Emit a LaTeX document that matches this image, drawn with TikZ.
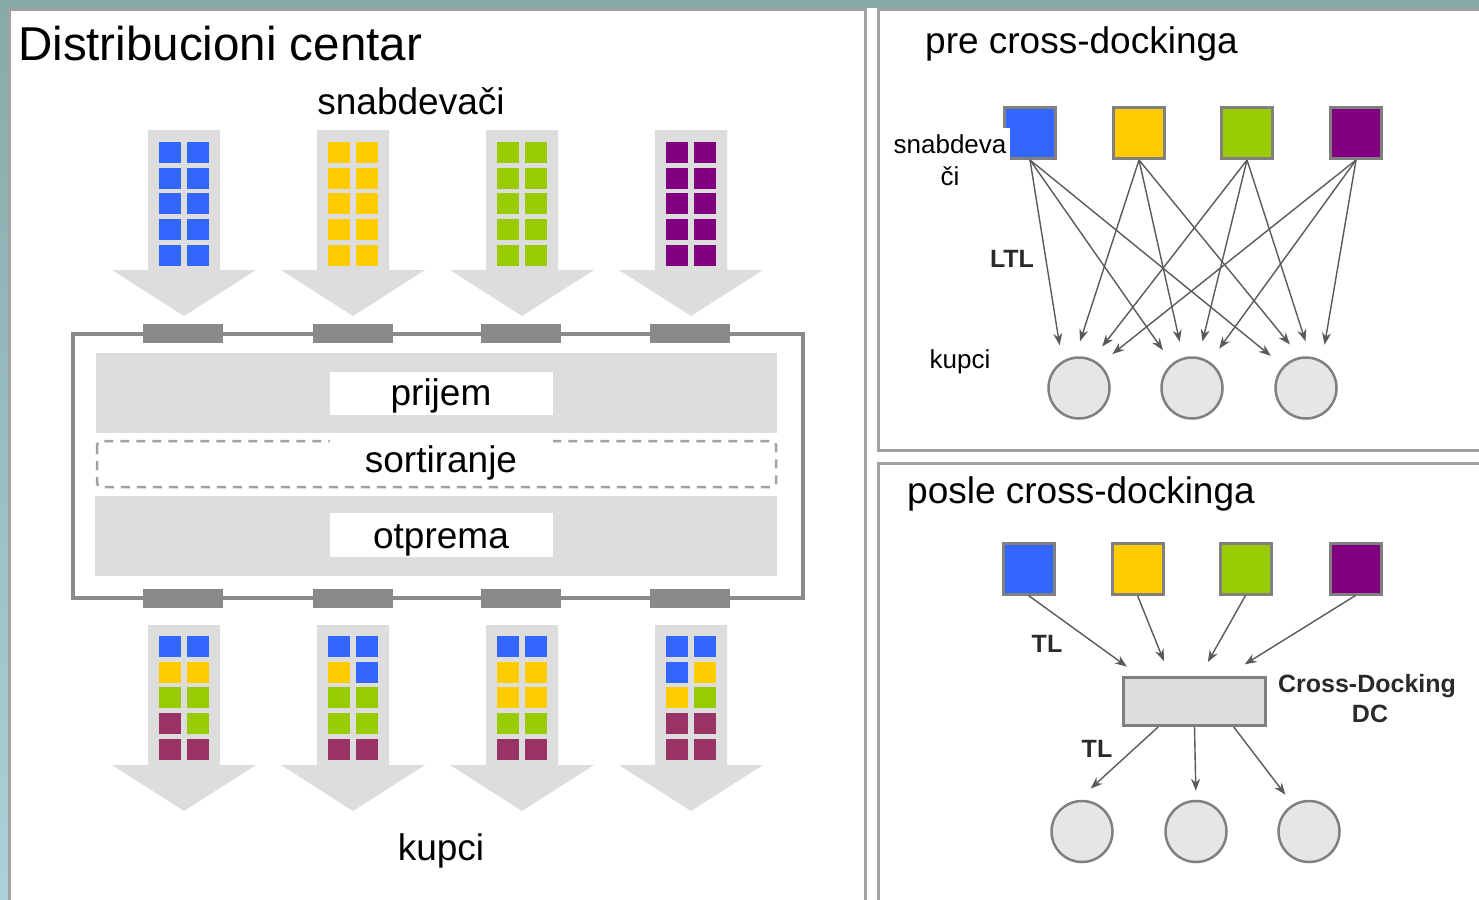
\documentclass[tikz,border=0pt]{standalone}
\usepackage{fontspec}
\setmainfont{Liberation Sans}
\usetikzlibrary{arrows.meta, calc, positioning}

\definecolor{frame}{HTML}{88A9A9}
\definecolor{framelow}{HTML}{A9D3D7}
\definecolor{panelline}{HTML}{A0A0A0}
\definecolor{flowgray}{HTML}{DDDDDD}
\definecolor{dockgray}{HTML}{8A8A8A}
\definecolor{cblue}{HTML}{3366FF}
\definecolor{cyellow}{HTML}{FFCC00}
\definecolor{cgreen}{HTML}{99CC00}
\definecolor{cpurple}{HTML}{800080}
\definecolor{cwine}{HTML}{993366}
\definecolor{nodefill}{HTML}{E6E6E6}
\definecolor{nodeline}{HTML}{808080}
\definecolor{arrowgray}{HTML}{5A5A5A}
\definecolor{tagtext}{HTML}{2A2A2A}

% wide gray flow arrow: centre x, top y, base y of the head
\newcommand{\bigarrow}[3]{%
  \fill[flowgray] (#1-36,#2) -- (#1+36,#2) -- (#1+36,#3) -- (#1+72,#3)
    -- (#1,#3+46) -- (#1-72,#3) -- (#1-36,#3) -- cycle}
% two columns of pallets: centre x, top y, colour pairs
\newcommand{\pallets}[3]{%
  \foreach \lc/\rc [count=\nrow from 0] in {#3} {
    \fill[\lc] (#1-25,#2+\nrow*25.7) rectangle ++(22,21);
    \fill[\rc] (#1+3,#2+\nrow*25.7) rectangle ++(22,21);
  }}

\begin{document}
\begin{tikzpicture}[x=1pt, y=-1pt,
    >={Stealth[length=12pt,width=9pt]},
    supplier/.style={draw=nodeline, line width=3pt, minimum size=51pt, inner sep=0pt},
    customer/.style={circle, draw=nodeline, line width=2.5pt, fill=nodefill, minimum size=61pt, inner sep=0pt},
    flow/.style={->, draw=arrowgray, line width=1.4pt, shorten >=#1},
    flow/.default=16pt,
    txt/.style={inner sep=0pt, anchor=base, font=\fontsize{37}{44}\selectfont},
    small/.style={inner sep=0pt, anchor=base, font=\fontsize{26}{31}\selectfont},
    tag/.style={inner sep=0pt, anchor=base, text=tagtext, font=\fontsize{25}{30}\selectfont\bfseries}]
  \useasboundingbox (0,0) rectangle (1479,899);

  % frame and panels
  \fill[frame] (0,0) rectangle (1479,899);
  \shade[top color=frame, bottom color=framelow] (0,0) rectangle (8,899);
  \fill[white] (8,8) rectangle (1479,899);
  \draw[panelline, line width=3pt] (9.5,9.5) rectangle (865,910);
  \draw[panelline, line width=3pt] (878,9.5) rectangle (1490,450);
  \draw[panelline, line width=3pt] (878,463.5) rectangle (1490,910);

  % distribution centre
  \node[txt, anchor=base west, font=\fontsize{47.5}{56}\selectfont] (dctitle) at (18,60) {Distribucioni centar};
  \node[txt] (dcin) at (411,114) {snabdevači};
  \bigarrow{184}{130}{270};
  \bigarrow{353}{130}{270};
  \bigarrow{522}{130}{270};
  \bigarrow{691}{130}{270};
  \pallets{184}{142}{cblue/cblue,cblue/cblue,cblue/cblue,cblue/cblue,cblue/cblue};
  \pallets{353}{142}{cyellow/cyellow,cyellow/cyellow,cyellow/cyellow,cyellow/cyellow,cyellow/cyellow};
  \pallets{522}{142}{cgreen/cgreen,cgreen/cgreen,cgreen/cgreen,cgreen/cgreen,cgreen/cgreen};
  \pallets{691}{142}{cpurple/cpurple,cpurple/cpurple,cpurple/cpurple,cpurple/cpurple,cpurple/cpurple};

  \draw[dockgray, line width=4pt] (73,334) rectangle (803,598);
  \foreach \dx in {143,313,481,650} {
    \fill[dockgray] (\dx,324) rectangle ++(80,19);
    \fill[dockgray] (\dx,589) rectangle ++(80,19);
  }
  \fill[flowgray] (96,353) rectangle (777,433);
  \fill[flowgray] (95,496) rectangle (777,576);
  \draw[dockgray!80, line width=2.5pt, dash pattern=on 9pt off 7pt, rounded corners=4pt] (97,441) rectangle (776,487);
  \fill[white] (330,372) rectangle (553,415);
  \fill[white] (330,436) rectangle (553,483);
  \fill[white] (330,513) rectangle (553,557);
  \node[txt] (receive) at (441,405) {prijem};
  \node[txt] (sort) at (441,472) {sortiranje};
  \node[txt] (ship) at (441,548) {otprema};

  \bigarrow{184}{625}{765};
  \bigarrow{353}{625}{765};
  \bigarrow{522}{625}{765};
  \bigarrow{691}{625}{765};
  \pallets{184}{636}{cblue/cblue,cyellow/cyellow,cgreen/cgreen,cwine/cgreen,cwine/cwine};
  \pallets{353}{636}{cblue/cblue,cyellow/cblue,cgreen/cgreen,cgreen/cgreen,cwine/cwine};
  \pallets{522}{636}{cblue/cblue,cyellow/cyellow,cyellow/cyellow,cgreen/cgreen,cwine/cwine};
  \pallets{691}{636}{cblue/cblue,cblue/cyellow,cyellow/cgreen,cwine/cwine,cwine/cwine};
  \node[txt] (dcout) at (441,860) {kupci};

  % before cross-docking
  \node[txt, anchor=base west] (pretitle) at (925,53) {pre cross-dockinga};
  \node[supplier, fill=cblue] (b1) at (1030,133) {};
  \node[supplier, fill=cyellow] (y1) at (1139,133) {};
  \node[supplier, fill=cgreen] (g1) at (1247,133) {};
  \node[supplier, fill=cpurple] (p1) at (1356,133) {};
  \node[customer] (k1) at (1079,388) {};
  \node[customer] (k2) at (1192,388) {};
  \node[customer] (k3) at (1306,388) {};
  \fill[white] (886,128) rectangle (1010,186);
  \node[small] (presup) at (950,153) {snabdeva};
  \node[small] (presup2) at (950,185) {či};
  \node[tag] (ltl) at (1012,267) {LTL};
  \node[small] (precust) at (960,368) {kupci};
  \path
    (b1.south) edge[flow] (k1.122) edge[flow] (k2.129) edge[flow] (k3.136)
    (y1.south) edge[flow] (k1.97)  edge[flow] (k2.106) edge[flow] (k3.101)
    (g1.south) edge[flow] (k1.65)  edge[flow] (k2.78)  edge[flow] (k3.82)
    (p1.south) edge[flow] (k1.49)  edge[flow] (k2.56)  edge[flow] (k3.60);

  % after cross-docking
  \node[txt, anchor=base west] (posttitle) at (907,503) {posle cross-dockinga};
  \node[supplier, fill=cblue] (b2) at (1028.5,568.5) {};
  \node[supplier, fill=cyellow] (y2) at (1137.5,568.5) {};
  \node[supplier, fill=cgreen] (g2) at (1245.5,568.5) {};
  \node[supplier, fill=cpurple] (p2) at (1355.5,568.5) {};
  \node[draw=nodeline, line width=3pt, fill=flowgray, minimum width=142pt, minimum height=48pt, inner sep=0pt] (cd) at (1194.5,701.5) {};
  \node[tag] (cdname) at (1367,692) {Cross-Docking};
  \node[tag] (cdtype) at (1370,722) {DC};
  \node[tag] (tlin) at (1047,652) {TL};
  \node[tag] (tlout) at (1097,757) {TL};
  \node[customer] (m1) at (1082,831.5) {};
  \node[customer] (m2) at (1196,831.5) {};
  \node[customer] (m3) at (1309,831.5) {};
  \path
    (b2.south) edge[flow] (cd.155)
    (y2.south) edge[flow] (cd.134)
    (g2.south) edge[flow] (cd.78)
    (p2.south) edge[flow=22pt] (cd.39);
  \path
    (cd.215) edge[flow=17pt] (m1.97)
    (cd.south) edge[flow=9pt] (m2.90)
    (cd.327) edge[flow=12pt] (m3.121);
\end{tikzpicture}
\end{document}
